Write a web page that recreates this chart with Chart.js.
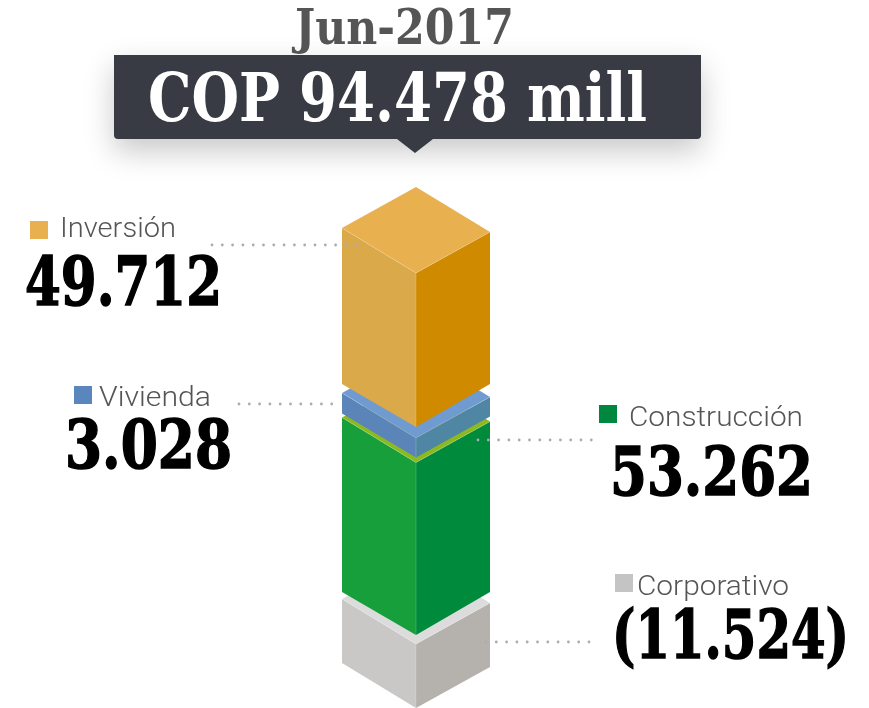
<!DOCTYPE html>
<html>
<head>
<meta charset="utf-8">
<script src="https://cdn.jsdelivr.net/npm/chart.js@4/dist/chart.umd.min.js"></script>
<style>
  html, body { margin: 0; background: #fff; }
  #wrap { position: relative; width: 869px; height: 708px; overflow: hidden; }
  canvas { position: absolute; left: 0; top: 0; }
  .t { position: absolute; white-space: nowrap; line-height: 1; transform-origin: 0 0; }
  .slab { font-family: "DejaVu Serif"; font-weight: 700; }
  .heavy { -webkit-text-stroke: 1.6px #000; }
  .name { font-family: Roboto; font-weight: 300; color: #555; }
  .sw { position: absolute; width: 18px; height: 18px; }
  #banner { position: absolute; left: 114px; top: 55px; width: 587px; height: 84px; background: #383a44;
    border-radius: 0 0 4px 4px; box-shadow: 0 12px 30px rgba(0,0,0,.22); }
  #tip { position: absolute; left: 397px; top: 139px; width: 0; height: 0;
    border-left: 18px solid transparent; border-right: 18px solid transparent; border-top: 14px solid #383a44; }
</style>
</head>
<body>
<div id="wrap">
  <canvas id="chart" width="869" height="708"></canvas>
  <div id="banner"></div>
  <div id="tip"></div>
</div>
<script>
// bottom of the stack first
const categories = ['Corporativo', 'Construcción', 'Vivienda', 'Inversión'];
// the printed amounts
const amounts = [-11.524, 53.262, 3.028, 49.712];
// the graphic is not to scale, so segment lengths are read off the drawing itself
const drawnLengths = [-21.4, 55.9, 8.8, 49.8];
const period = 'Jun-2017';
const totalLabel = 'COP 94.478 mill';

const topColors = ['#dcdcdc', '#8cb820', '#6f9bd1', '#e8b04f'];
const leftColors = ['#c9c8c6', '#169f3a', '#5b84b8', '#d9a94a'];
const rightColors = ['#b5b1ad', '#008a3c', '#4f86a3', '#cf8a00'];
const swatchColors = ['#c4c4c4', '#00873f', '#5a85bd', '#e8b04f'];

// gap above / below each block, and how far the bottom corners rise (left, right)
const insets = [[4.5, 0], [2, 4.5], [5.5, 3], [0, 5.5]];
const bottomRise = [[45, 41], [43, 43], [44, 41], [43, 43]];
const topRise = [45, 41];

// leader lines: y, x start, x end
const leaders = [[642, 486, 597], [440, 478, 592], [404, 239, 342], [245, 212, 365]];

function poly(ctx, pts, fill) {
  ctx.beginPath();
  pts.forEach((p, i) => i ? ctx.lineTo(p[0], p[1]) : ctx.moveTo(p[0], p[1]));
  ctx.closePath();
  ctx.fillStyle = fill;
  ctx.fill();
}

const isoBlocks = {
  id: 'isoBlocks',
  beforeDatasetsDraw(chart) {
    const ctx = chart.ctx;
    chart.data.datasets.forEach((ds, i) => {
      const bar = chart.getDatasetMeta(i).data[0];
      const top = Math.min(bar.y, bar.base) + insets[i][0];
      const bot = Math.max(bar.y, bar.base) - insets[i][1];
      const L = bar.x - bar.width / 2;
      const R = bar.x + bar.width / 2;
      const [rl, rr] = topRise;
      const [bl, br] = bottomRise[i];
      poly(ctx, [[L, top - rl], [bar.x, top], [bar.x, bot], [L, bot - bl]], leftColors[i]);
      poly(ctx, [[bar.x, top], [R, top - rr], [R, bot - br], [bar.x, bot]], rightColors[i]);
      poly(ctx, [[bar.x, top], [R, top - rr], [bar.x, top - rl - rr], [L, top - rl]], topColors[i]);
      // thin light edge round the top face
      ctx.beginPath();
      ctx.moveTo(L, top - rl);
      ctx.lineTo(bar.x, top);
      ctx.lineTo(R, top - rr);
      ctx.moveTo(bar.x, top);
      ctx.lineTo(bar.x, bot);
      ctx.strokeStyle = 'rgba(255,255,255,.18)';
      ctx.lineWidth = 1;
      ctx.stroke();
    });
    ctx.fillStyle = '#a9abb5';
    leaders.forEach(([y, x0, x1]) => {
      for (let x = x0; x <= x1; x += 10.3) {
        ctx.beginPath();
        ctx.arc(x, y, 1.4, 0, Math.PI * 2);
        ctx.fill();
      }
    });
    return false;
  }
};

new Chart(document.getElementById('chart'), {
  type: 'bar',
  data: {
    labels: [period],
    datasets: categories.map((c, i) => ({ label: c, data: [drawnLengths[i]], backgroundColor: leftColors[i] }))
  },
  options: {
    responsive: false,
    animation: false,
    layout: { padding: { right: 37 } },
    barThickness: 148,
    plugins: { legend: { display: false }, tooltip: { enabled: false } },
    scales: {
      x: { stacked: true, display: false },
      y: { stacked: true, display: false, min: -21.4, max: 199.8 }
    }
  },
  plugins: [isoBlocks]
});

// text, placed by ink left / cap top and squeezed to the reference width
const wrap = document.getElementById('wrap');
function addText(str, cls, size, color, left, top, width) {
  const el = document.createElement('div');
  el.className = 't ' + cls;
  el.textContent = str;
  el.style.fontSize = size + 'px';
  el.style.color = color;
  el.style.left = left + 'px';
  el.style.top = top + 'px';
  wrap.appendChild(el);
  el.style.transform = 'scaleX(' + (width / el.getBoundingClientRect().width) + ')';
}
function amountText(v) {
  const s = Math.abs(v).toFixed(3);
  return v < 0 ? '(' + s + ')' : s;
}

addText(period, 'slab', 48, '#555', 295, 3, 219);
addText(totalLabel, 'slab', 68, '#fff', 148, 63, 499);

// swatch x, swatch y, name x, name y, name width, amount x, amount y, amount width
const labelSpots = [
  [615, 574, 637, 572, 152, 612, 600, 237],
  [599, 405, 629, 403, 174, 610, 437, 203],
  [74, 386, 99, 383, 112, 65, 410, 167],
  [30, 221, 60, 214, 116, 25, 247, 197]
];
categories.forEach((c, i) => {
  const [sx, sy, nx, ny, nw, ax, ay, aw] = labelSpots[i];
  const sw = document.createElement('div');
  sw.className = 'sw';
  sw.style.left = sx + 'px';
  sw.style.top = sy + 'px';
  sw.style.background = swatchColors[i];
  wrap.appendChild(sw);
  addText(c, 'name', 28, '#555', nx, ny, nw);
  addText(amountText(amounts[i]), 'slab heavy', 68, '#000', ax, ay, aw);
});
</script>
</body>
</html>
